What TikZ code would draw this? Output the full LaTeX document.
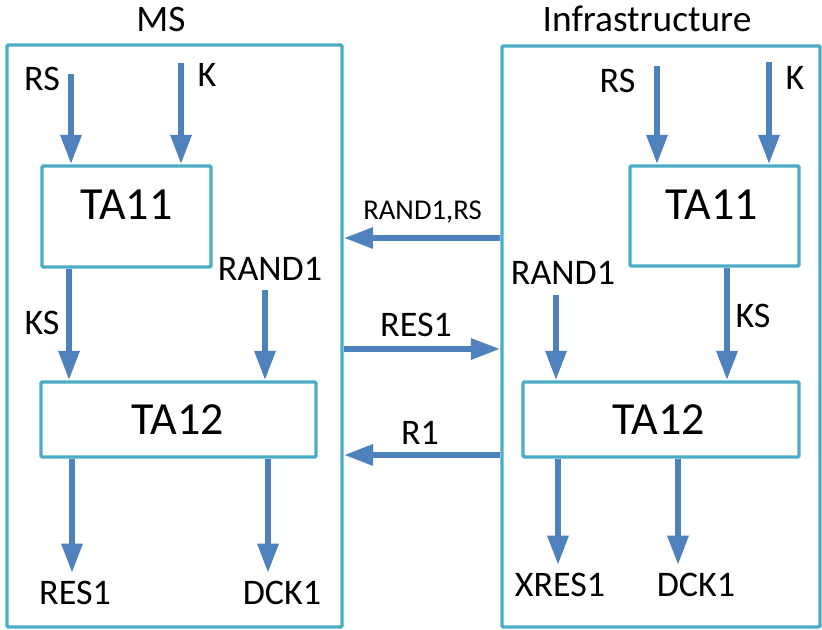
\documentclass[tikz,border=0pt]{standalone}
\usepackage{fontspec}
\setmainfont{Carlito}
\usetikzlibrary{arrows.meta}
\definecolor{boxteal}{HTML}{4BACC6}
\definecolor{arrowblue}{HTML}{4F81BD}
\tikzset{
  frame/.style={draw=boxteal, line width=2.6pt, rounded corners=1pt, inner sep=0pt},
  arr/.style={draw=arrowblue, line width=4.5pt, -{Triangle[length=22pt,width=15pt]}},
  lbl/.style={anchor=base, inner sep=0pt, font=\fontsize{27}{30}\selectfont},
  head/.style={anchor=base, inner sep=0pt, font=\fontsize{28}{32}\selectfont},
  small/.style={anchor=base, inner sep=0pt, font=\fontsize{21.5}{25}\selectfont},
  big/.style={anchor=base, inner sep=0pt, font=\fontsize{34.5}{40}\selectfont}
}
\begin{document}
\begin{tikzpicture}[x=0.75pt,y=-0.75pt]
\useasboundingbox (0,0) rectangle (822,630);
% outer boxes
\node[frame, minimum width=251.25pt, minimum height=436.5pt] (lbox) at (174.5,336) {};
\node[frame, minimum width=238.5pt, minimum height=435.75pt] (rbox) at (661,336.5) {};
\node[head] (ms) at (161,32) {MS};
\node[head] (infra) at (647,32) {Infrastructure};
% inner boxes
\node[frame, minimum width=126.75pt, minimum height=75.75pt] (lta11) at (126.5,216.5) {};
\node[big] (lta11t) at (126.5,220) {TA11};
\node[frame, minimum width=206.25pt, minimum height=56.25pt] (lta12) at (178.5,419.5) {};
\node[big] (lta12t) at (178,435) {TA12};
\node[frame, minimum width=126.75pt, minimum height=75pt] (rta11) at (714.5,216) {};
\node[big] (rta11t) at (712,220) {TA11};
\node[frame, minimum width=207pt, minimum height=56.25pt] (rta12) at (661,419.5) {};
\node[big] (rta12t) at (659,435) {TA12};
% left labels
\node[lbl] (lrs) at (42,91) {RS};
\node[lbl] (lk) at (207,87) {K};
\node[lbl] (lks) at (42,335) {KS};
\node[lbl] (lrand) at (270,281) {RAND1};
\node[lbl] (lres) at (75,605) {RES1};
\node[lbl] (ldck) at (282,605) {DCK1};
% right labels
\node[lbl] (rrs) at (617.5,93) {RS};
\node[lbl] (rk) at (795,90) {K};
\node[lbl] (rrand) at (563,285) {RAND1};
\node[lbl] (rks) at (753,328) {KS};
\node[lbl] (rxres) at (560,597) {XRES1};
\node[lbl] (rdck) at (696,597) {DCK1};
% middle labels
\node[small] (mrand) at (422.5,220) {RAND1,RS};
\node[lbl] (mres) at (416,337) {RES1};
\node[lbl] (mr1) at (420,445) {R1};
% free ends
\coordinate (lrs0) at (71,74);
\coordinate (lk0) at (181,63);
\coordinate (lrand0) at (265,290);
\coordinate (lres1) at (72,573);
\coordinate (ldck1) at (268,573);
\coordinate (rrs0) at (657,66);
\coordinate (rk0) at (769,62);
\coordinate (rrand0) at (556,295);
\coordinate (rxres1) at (558,565);
\coordinate (rdck1) at (678,565);
\coordinate (lks0) at (69,300);
\coordinate (rks0) at (727,300);
\coordinate (m1) at (420,238);
\coordinate (m2) at (420,349);
\coordinate (m3) at (420,455);
% left arrows
\draw[arr] (lrs0) -- (lrs0 |- lta11.north);
\draw[arr] (lk0) -- (lk0 |- lta11.north);
\draw[arr] (lta11.south -| lks0) -- (lta12.north -| lks0);
\draw[arr] (lrand0) -- (lrand0 |- lta12.north);
\draw[arr] (lta12.south -| lres1) -- (lres1);
\draw[arr] (lta12.south -| ldck1) -- (ldck1);
% right arrows
\draw[arr] (rrs0) -- (rrs0 |- rta11.north);
\draw[arr] (rk0) -- (rk0 |- rta11.north);
\draw[arr] (rta11.south -| rks0) -- (rta12.north -| rks0);
\draw[arr] (rrand0) -- (rrand0 |- rta12.north);
\draw[arr] (rta12.south -| rxres1) -- (rxres1);
\draw[arr] (rta12.south -| rdck1) -- (rdck1);
% middle arrows
\draw[arr] (rbox.west |- m1) -- (lbox.east |- m1);
\draw[arr] (lbox.east |- m2) -- (rbox.west |- m2);
\draw[arr] (rbox.west |- m3) -- (lbox.east |- m3);
\end{tikzpicture}
\end{document}
